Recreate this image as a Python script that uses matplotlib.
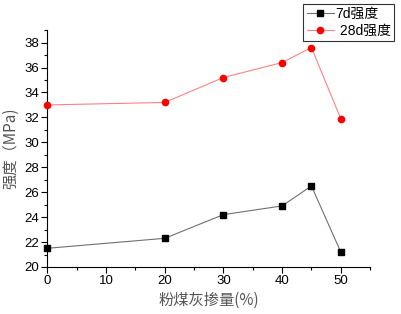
import matplotlib
matplotlib.use("Agg")
import matplotlib.pyplot as plt
from matplotlib.ticker import MultipleLocator

plt.rcParams['font.family'] = ['Liberation Sans', 'Noto Sans CJK SC', 'DejaVu Sans']

x = [0, 20, 30, 40, 45, 50]
s7 = [21.5, 22.3, 24.2, 24.9, 26.5, 21.2]
s28 = [33.0, 33.2, 35.2, 36.4, 37.6, 31.9]
labels = ['7d强度', ' 28d强度']

fig = plt.figure(figsize=(4.01, 3.14), dpi=100)
ax = fig.add_axes([0.118, 0.1497, 0.805, 0.7543])
ax.plot(x, s7, color='#707070', lw=0.8, marker='s', ms=4.5, mfc='black', mec='black', label=labels[0], clip_on=False, zorder=3)
ax.plot(x, s28, color='#ff8080', lw=0.8, marker='o', ms=4.5, mfc='red', mec='red', label=labels[1], clip_on=False, zorder=3)

ax.set_xlim(0, 55)
ax.set_ylim(20, 39)
ax.xaxis.set_major_locator(MultipleLocator(10))
ax.xaxis.set_minor_locator(MultipleLocator(5))
ax.yaxis.set_major_locator(MultipleLocator(2))
ax.yaxis.set_minor_locator(MultipleLocator(1))
for s in ['top', 'right']:
    ax.spines[s].set_visible(False)
ax.tick_params(which='major', direction='out', length=4, width=0.8, labelsize=9.5, pad=2)
ax.tick_params(which='minor', direction='out', length=2, width=0.8)

ax.set_xlabel('粉煤灰掺量(%)', fontsize=11, color='#555555', family=['Noto Sans CJK SC', 'DejaVu Sans'], labelpad=3)
ax.set_ylabel('强度（MPa)', fontsize=11, color='#555555', family=['Noto Sans CJK SC', 'DejaVu Sans'], labelpad=4)

leg = fig.legend(loc='upper right', bbox_to_anchor=(0.99, 0.997), frameon=True, fancybox=False,
                 handlelength=2.0, borderpad=0.25, labelspacing=0.2, handletextpad=0.1, borderaxespad=0.2,
                 prop={'family': ['Liberation Sans', 'Noto Sans CJK SC'], 'size': 10})
leg.get_frame().set_edgecolor('black')
leg.get_frame().set_linewidth(0.8)

fig.savefig('out.png', dpi=100)
